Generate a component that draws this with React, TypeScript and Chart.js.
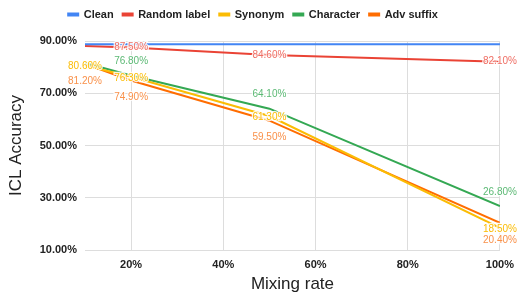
import React, { useEffect, useRef } from "react";
import { Chart, registerables, layouts } from "chart.js";

Chart.register(...registerables);

const mixingRates = [10, 20, 50, 100];
const xTickValues = [20, 40, 60, 80, 100];
const yTickValues = [10, 30, 50, 70, 90];
const seriesNames = ["Clean", "Random label", "Synonym", "Character", "Adv suffix"];
const clean = [88.8, 88.8, 88.8, 88.8];
const randomLabel = [88.1, 87.5, 84.6, 82.1];
const synonym = [80.6, 76.3, 61.3, 18.5];
const character = [81.6, 76.8, 64.1, 26.8];
const advSuffix = [81.2, 74.9, 59.5, 20.4];

const FONT = "'Liberation Sans', Arial, sans-serif";

const styles = [
  { color: "#4285F4", labelColor: "", labelOffset: 0, labelFrom: 99 },
  { color: "#EA4335", labelColor: "#ef6e64", labelOffset: 0, labelFrom: 1 },
  { color: "#FBBC04", labelColor: "#fbbc04", labelOffset: 1, labelFrom: 0 },
  { color: "#34A853", labelColor: "#5bb974", labelOffset: -14, labelFrom: 1 },
  { color: "#FF6D01", labelColor: "#f9914a", labelOffset: 17, labelFrom: 0 },
];

const dataLabelPlugin = {
  id: "dataLabels",
  afterDatasetsDraw(chart: any) {
    const ctx = chart.ctx;
    ctx.save();
    ctx.font = `10px ${FONT}`;
    ctx.textAlign = "center";
    ctx.textBaseline = "middle";
    chart.data.datasets.forEach((ds: any, i: number) => {
      const st = styles[i];
      const meta = chart.getDatasetMeta(i);
      meta.data.forEach((pt: any, j: number) => {
        if (j < st.labelFrom) return;
        const text = ds.data[j].y.toFixed(2) + "%";
        const x = pt.x;
        const y = pt.y + st.labelOffset;
        ctx.lineWidth = 2.5;
        ctx.strokeStyle = "rgba(255,255,255,0.85)";
        ctx.strokeText(text, x, y);
        ctx.fillStyle = st.labelColor;
        ctx.fillText(text, x, y);
      });
    });
    ctx.restore();
  },
};

const spacerPlugin = {
  id: "spacer",
  beforeInit(chart: any) {
    const box: any = {
      position: "top",
      weight: 0,
      fullSize: true,
      options: {},
      width: 0,
      height: 0,
      top: 0,
      left: 0,
      right: 0,
      bottom: 0,
      isHorizontal: () => true,
      update(maxWidth: number) {
        box.width = maxWidth;
        box.height = 11;
      },
      draw() {},
    };
    layouts.addBox(chart, box);
  },
};

export default function App() {
  const ref = useRef<HTMLCanvasElement>(null);
  useEffect(() => {
    document.body.style.margin = "0";
    const all = [clean, randomLabel, synonym, character, advSuffix];
    const chart = new Chart(ref.current!, {
      type: "line",
      data: {
        datasets: all.map((vals, i) => ({
          label: seriesNames[i],
          data: vals.map((v, k) => ({ x: mixingRates[k], y: v })),
          borderColor: styles[i].color,
          backgroundColor: styles[i].color,
          borderWidth: 2,
          pointRadius: 0,
          tension: 0,
        })),
      },
      options: {
        animation: false,
        responsive: false,
        maintainAspectRatio: false,
        layout: { padding: { left: 0, right: 16, top: 0, bottom: 0 } },
        plugins: {
          legend: {
            position: "top",
            labels: {
              boxWidth: 10,
              boxHeight: 2,
              padding: 9,
              color: "#222",
              font: { family: FONT, size: 11, weight: "bold" },
            },
          },
          tooltip: { enabled: false },
        },
        scales: {
          x: {
            type: "linear",
            min: 10,
            max: 100,
            afterBuildTicks: (s: any) => {
              s.ticks = xTickValues.map((v) => ({ value: v }));
            },
            afterFit: (s: any) => {
              s.height = 45;
            },
            ticks: {
              padding: 8,
              color: "#222",
              font: { family: FONT, size: 11, weight: "bold" },
              callback: (v: any) => `${v}%`,
            },
            grid: { color: "#dddddd", drawTicks: false },
            border: { display: false },
            title: {
              display: true,
              text: "Mixing rate",
              color: "#222",
              font: { family: FONT, size: 17 },
              padding: { top: 0, bottom: 0 },
            },
          },
          y: {
            min: 10,
            max: 90,
            afterBuildTicks: (s: any) => {
              s.ticks = yTickValues.map((v) => ({ value: v }));
            },
            afterFit: (s: any) => {
              s.width = 85;
            },
            ticks: {
              padding: 8,
              color: "#222",
              font: { family: FONT, size: 11, weight: "bold" },
              callback: (v: any) => `${Number(v).toFixed(2)}%`,
            },
            grid: { color: "#dddddd", drawTicks: false },
            border: { display: false },
            title: {
              display: true,
              text: "ICL Accuracy",
              color: "#222",
              font: { family: FONT, size: 17 },
              padding: { top: 6, bottom: 0 },
            },
          },
        },
      },
      plugins: [dataLabelPlugin, spacerPlugin],
    } as any);
    return () => chart.destroy();
  }, []);
  return (
    <div style={{ width: 522, height: 295 }}>
      <canvas ref={ref} width={522} height={295} style={{ display: "block" }} />
    </div>
  );
}
